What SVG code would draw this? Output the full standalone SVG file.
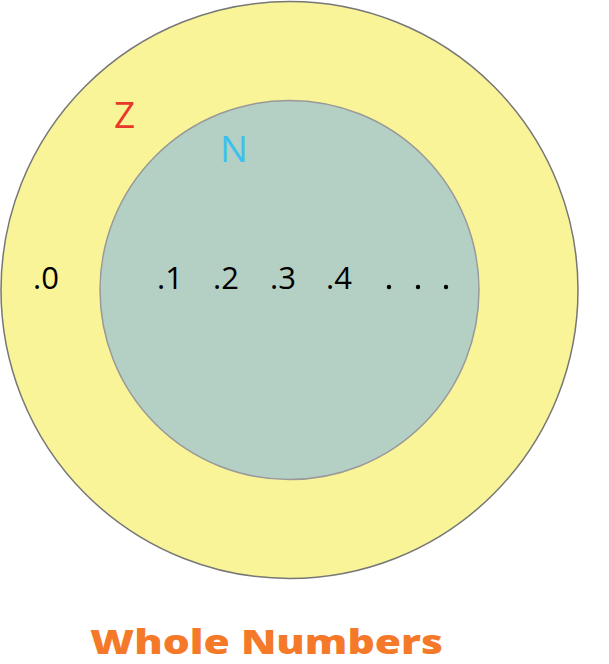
<svg xmlns="http://www.w3.org/2000/svg" width="609" height="664" viewBox="0 0 609 664">
<style>
.num{font-family:"Open Sans","Noto Sans",sans-serif;font-size:31px;fill:#000}
.lbl{font-family:"Open Sans","Noto Sans",sans-serif;font-size:37px}
.title{font-family:"Open Sans","Noto Sans",sans-serif;font-size:34px;font-weight:800;fill:#f47a2a}
</style>
<rect width="609" height="664" fill="#fff"/>
<g id="Z">
<circle cx="289.5" cy="290" r="288.5" fill="#f9f498" stroke="#777" stroke-width="1.5"/>
<text class="lbl" x="114" y="128" fill="#e8382a">Z</text>
<text class="num" x="33" y="289">.0</text>
</g>
<g id="N">
<circle cx="289.5" cy="290" r="189.5" fill="#b4cfc4" stroke="#999" stroke-width="1.5"/>
<text class="lbl" x="220" y="162" fill="#3ec0ef">N</text>
<text class="num" x="157" y="289">.1</text>
<text class="num" x="213" y="289">.2</text>
<text class="num" x="270" y="289">.3</text>
<text class="num" x="326" y="289">.4</text>
<circle cx="389" cy="287" r="2.2" fill="#000"/>
<circle cx="418" cy="287" r="2.2" fill="#000"/>
<circle cx="446" cy="287" r="2.2" fill="#000"/>
</g>
<g id="connectors"/>
<text class="title" x="90" y="654" textLength="353" lengthAdjust="spacingAndGlyphs">Whole Numbers</text>
</svg>
